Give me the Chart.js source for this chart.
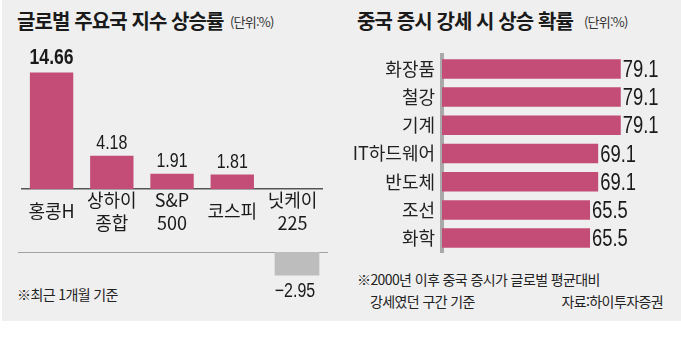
<!DOCTYPE html>
<html lang="ko">
<head>
<meta charset="utf-8">
<script src="https://cdn.jsdelivr.net/npm/chart.js@4.4.0/dist/chart.umd.min.js"></script>
<style>
  body { margin: 0; width: 681px; height: 351px; background: #fff; overflow: hidden; }
  #panel { position: absolute; left: 2px; top: 0; width: 679px; height: 321px; background: #efefef; }
  .abs { position: absolute; white-space: nowrap; font-family: "Noto Sans CJK KR", sans-serif; color: #1a1a1a; }
  .title { font-size: 20px; font-weight: 700; letter-spacing: -0.9px; line-height: 1; }
  .unit { font-size: 13px; letter-spacing: -0.8px; line-height: 1; color: #333; }
  .note { font-size: 14px; letter-spacing: -0.6px; line-height: 1; color: #222; }
  canvas { position: absolute; }
</style>
</head>
<body>
<div id="panel"></div>
<div class="abs title" style="left:17px; top:11px;">글로벌 주요국 지수 상승률</div>
<div class="abs unit" style="left:230px; top:15px;">(단위:%)</div>
<div class="abs title" style="left:357px; top:11px;">중국 증시 강세 시 상승 확률</div>
<div class="abs unit" style="left:584px; top:15px;">(단위:%)</div>
<div class="abs note" style="left:17px; top:287px;">※최근 1개월 기준</div>
<div class="abs note" style="left:357px; top:272px;">※2000년 이후 중국 증시가 글로벌 평균대비</div>
<div class="abs note" style="left:370px; top:294px;">강세였던 구간 기준</div>
<div class="abs note" style="right:18px; top:294px;">자료:하이투자증권</div>

<div style="position:absolute; left:18px; top:45px; width:310px; height:195px;"><canvas id="leftTop"></canvas></div>
<div style="position:absolute; left:18px; top:252px; width:310px; height:48px;"><canvas id="leftBottom"></canvas></div>
<div style="position:absolute; left:345px; top:37px; width:323px; height:233px;"><canvas id="rightChart"></canvas></div>

<script>
// --- data ---
const indexNames = [['홍콩H'], ['상하이', '종합'], ['S&P', '500'], ['코스피'], ['닛케이', '225']];
const indexReturns = [14.66, 4.18, 1.91, 1.81, -2.95];

const sectorNames = ['화장품', '철강', '기계', 'IT하드웨어', '반도체', '조선', '화학'];
const sectorProb = [79.1, 79.1, 79.1, 69.1, 69.1, 65.5, 65.5];

const PINK = '#c44d77';
const GREY = '#bdbdbd';
const NUM_FONT = '"Liberation Sans", Arial, sans-serif';
const KR_FONT = '"Noto Sans CJK KR", sans-serif';
const SQUEEZE = 0.8;       // numbers in the original are condensed
const PX_PER_UNIT = 7.95;  // left chart scale, both halves share it

// value labels drawn next to each bar (horizontally squeezed)
const valueLabels = {
    id: 'valueLabels',
    afterDatasetsDraw(chart, args, opts) {
        const ctx = chart.ctx;
        const vals = chart.data.datasets[0].data;
        chart.getDatasetMeta(0).data.forEach((bar, i) => {
            const v = vals[i];
            if (v === null || v === undefined) return;
            const txt = v < 0 ? '\u2212' + Math.abs(v).toFixed(2) : String(v);
            let x, y, align;
            if (chart.options.indexAxis === 'y') {
                x = bar.x + 2; y = bar.y + 8; align = 'left';
            } else if (v >= 0) {
                x = bar.x; y = bar.y - (i === 0 ? 8 : 7); align = 'center';
            } else {
                x = bar.x - 2; y = bar.y + 22; align = 'center';
            }
            ctx.save();
            ctx.fillStyle = '#1a1a1a';
            ctx.textBaseline = 'alphabetic';
            ctx.textAlign = align;
            ctx.font = opts.font(i);
            ctx.translate(x, y);
            ctx.scale(SQUEEZE, 1);
            ctx.fillText(txt, 0, 0);
            ctx.restore();
        });
    }
};

Chart.defaults.animation = false;
Chart.defaults.font.family = KR_FONT;

// --- left: positive part with category labels ---
const topHeight = 195 - 51;
new Chart(document.getElementById('leftTop'), {
    type: 'bar',
    data: {
        labels: indexNames,
        datasets: [{
            data: indexReturns.map(v => v > 0 ? v : null),
            backgroundColor: PINK,
            barPercentage: 0.72,
            categoryPercentage: 1
        }]
    },
    options: {
        responsive: true,
        maintainAspectRatio: false,
        layout: { padding: 0 },
        plugins: {
            legend: { display: false },
            tooltip: { enabled: false },
            valueLabels: { font: i => (i === 0 ? 'bold 22px ' : '20px ') + NUM_FONT }
        },
        scales: {
            x: {
                grid: { display: false, drawTicks: false },
                border: { display: true, color: '#555', width: 1.5 },
                ticks: {
                    color: '#1a1a1a',
                    padding: 11,
                    crossAlign: 'center',
                    maxRotation: 0,
                    autoSkip: false,
                    font: { family: KR_FONT, size: 18, lineHeight: '23px' }
                },
                afterFit: s => { s.height = 51; }
            },
            y: { display: false, min: 0, max: topHeight / PX_PER_UNIT }
        }
    },
    plugins: [valueLabels]
});

// --- left: negative part below the labels ---
new Chart(document.getElementById('leftBottom'), {
    type: 'bar',
    data: {
        labels: indexNames,
        datasets: [{
            data: indexReturns.map(v => v < 0 ? v : null),
            backgroundColor: GREY,
            barPercentage: 0.72,
            categoryPercentage: 1
        }]
    },
    options: {
        responsive: true,
        maintainAspectRatio: false,
        layout: { padding: 0 },
        plugins: {
            legend: { display: false },
            tooltip: { enabled: false },
            valueLabels: { font: () => '20px ' + NUM_FONT }
        },
        scales: {
            x: {
                position: 'top',
                grid: { display: false, drawTicks: false },
                border: { display: true, color: '#555', width: 1.5 },
                ticks: { display: false },
                afterFit: s => { s.height = 0; }
            },
            y: { display: false, max: 0, min: -48 / PX_PER_UNIT }
        }
    },
    plugins: [valueLabels]
});

// --- right: horizontal bars ---
new Chart(document.getElementById('rightChart'), {
    type: 'bar',
    data: {
        labels: sectorNames,
        datasets: [{
            data: sectorProb,
            backgroundColor: PINK,
            barPercentage: 0.69,
            categoryPercentage: 1
        }]
    },
    options: {
        indexAxis: 'y',
        responsive: true,
        maintainAspectRatio: false,
        layout: { padding: 0 },
        plugins: {
            legend: { display: false },
            tooltip: { enabled: false },
            valueLabels: { font: () => '23px ' + NUM_FONT }
        },
        scales: {
            x: { display: false, min: 0, max: 100 },
            y: {
                grid: { display: false, drawTicks: false },
                border: { display: true, color: '#a9a9a9', width: 4 },
                ticks: {
                    color: '#222',
                    padding: 7,
                    font: { family: KR_FONT, size: 18 }
                },
                afterFit: s => { s.width = 97; }
            }
        }
    },
    plugins: [valueLabels]
});
</script>
</body>
</html>
